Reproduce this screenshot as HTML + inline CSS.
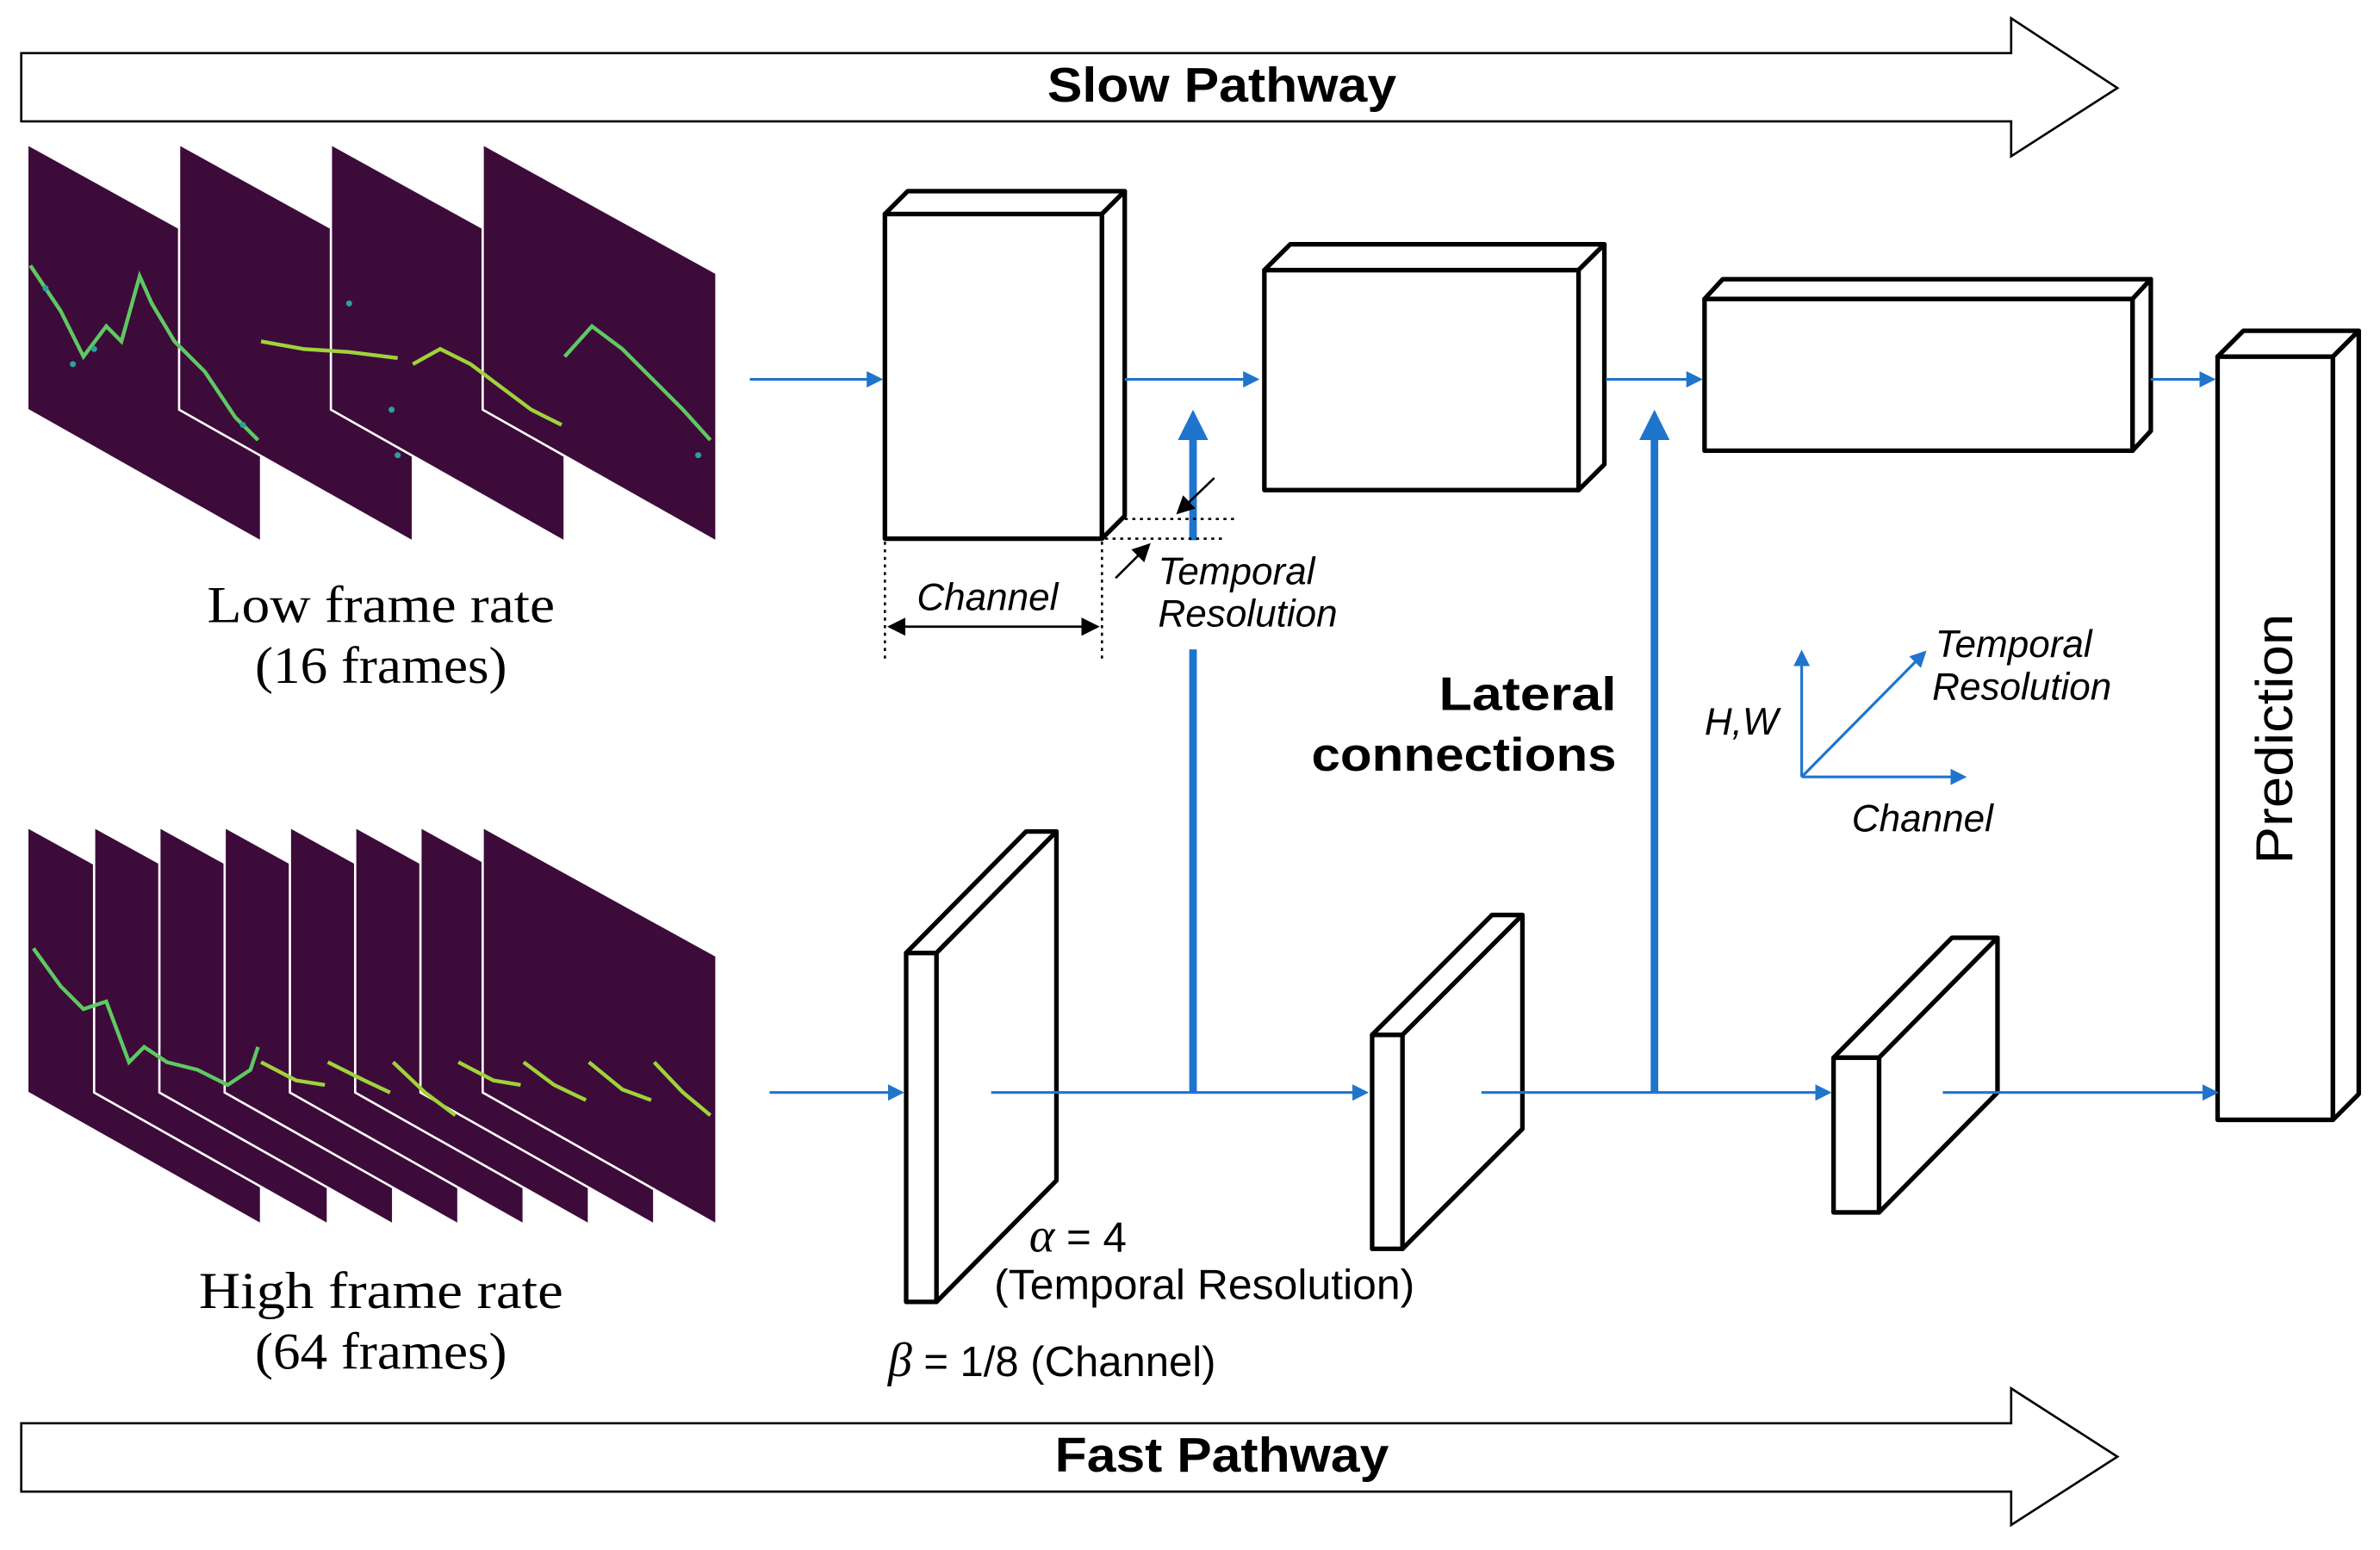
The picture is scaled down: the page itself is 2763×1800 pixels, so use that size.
<!DOCTYPE html>
<html><head><meta charset="utf-8"><style>html,body{margin:0;padding:0;background:#fff}svg{display:block}</style></head><body>
<svg width="2763" height="1800" viewBox="0 0 1568 1021.5" preserveAspectRatio="none" xmlns="http://www.w3.org/2000/svg">
<defs>
<marker id="ah" markerWidth="6" markerHeight="6" refX="5" refY="3" orient="auto" markerUnits="strokeWidth"><path d="M0,0 L6,3 L0,6 z" fill="#1f74cc"/></marker>
<marker id="ah2" markerWidth="4" markerHeight="4" refX="3" refY="2" orient="auto" markerUnits="strokeWidth"><path d="M0,0 L4,2 L0,4 z" fill="#1f74cc"/></marker>
<marker id="bk" markerWidth="8" markerHeight="8" refX="7" refY="4" orient="auto" markerUnits="strokeWidth"><path d="M0,0 L8,4 L0,8 z" fill="#000"/></marker>
<marker id="bks" markerWidth="8" markerHeight="8" refX="1" refY="4" orient="auto" markerUnits="strokeWidth"><path d="M8,0 L0,4 L8,8 z" fill="#000"/></marker>
</defs>
<g fill="#fff" stroke="#000" stroke-width="1.5">
<path d="M14,35 H1325 V12 L1395,58 L1325,103 V80 H14 Z"/>
<path d="M14,938 H1325 V915 L1395,960 L1325,1005 V983 H14 Z"/>
</g>
<g font-family="Liberation Sans, sans-serif" font-weight="bold" font-size="32" text-anchor="middle">
<text x="805" y="67" textLength="230" lengthAdjust="spacingAndGlyphs">Slow Pathway</text>
<text x="805" y="970" textLength="220" lengthAdjust="spacingAndGlyphs">Fast Pathway</text>
</g>
<g stroke="#fff" stroke-width="1.5" fill="#3d0b3a">
<path d="M18,95 L172,180 L172,357 L18,270 Z"/>
<path d="M118,95 L272,180 L272,357 L118,270 Z"/>
<path d="M218,95 L372,180 L372,357 L218,270 Z"/>
<path d="M318,95 L472,180 L472,357 L318,270 Z"/>
</g>
<g fill="none" stroke="#9fd33a" stroke-width="2.5">
<path d="M20,175 L40,205 L55,235 L70,215 L80,225 L92,182 L100,200 L115,225 L135,245 L155,275 L170,290" stroke="#5ec962"/>
<path d="M172,225 L200,230 L230,232 L262,236"/>
<path d="M272,240 L290,230 L310,240 L330,255 L350,270 L370,280"/>
<path d="M372,235 L390,215 L410,230 L430,250 L450,270 L468,290" stroke="#5ec962"/>
</g>
<g fill="#2aa0a0"><circle cx="30" cy="190" r="2"/><circle cx="48" cy="240" r="2"/><circle cx="62" cy="230" r="2"/><circle cx="230" cy="200" r="2"/><circle cx="258" cy="270" r="2"/><circle cx="262" cy="300" r="2"/><circle cx="460" cy="300" r="2"/><circle cx="160" cy="280" r="2"/></g>
<g stroke="#fff" stroke-width="1.5" fill="#3d0b3a">
<path d="M18,545 L172,630 L172,807 L18,720 Z"/>
<path d="M62,545 L216,630 L216,807 L62,720 Z"/>
<path d="M105,545 L259,630 L259,807 L105,720 Z"/>
<path d="M148,545 L302,630 L302,807 L148,720 Z"/>
<path d="M191,545 L345,630 L345,807 L191,720 Z"/>
<path d="M234,545 L388,630 L388,807 L234,720 Z"/>
<path d="M277,545 L431,630 L431,807 L277,720 Z"/>
<path d="M318,545 L472,630 L472,807 L318,720 Z"/>
</g>
<g fill="none" stroke="#9fd33a" stroke-width="2.5">
<path d="M22,625 L40,650 L55,665 L70,660 L85,700 L95,690 L110,700 L130,705 L150,715 L165,705 L170,690" stroke="#5ec962"/>
<path d="M172,700 L195,712 L214,715"/>
<path d="M216,700 L240,712 L257,720"/>
<path d="M259,700 L280,720 L300,735"/>
<path d="M302,700 L325,712 L343,715"/>
<path d="M345,700 L365,715 L386,725"/>
<path d="M388,700 L410,718 L429,725"/>
<path d="M431,700 L450,720 L468,735"/>
</g>
<g fill="#fff" stroke="#000" stroke-width="3" stroke-linejoin="round">
<rect x="583" y="141" width="143" height="214"/>
<path d="M583,141 L598,126 L741,126 L726,141 Z"/>
<path d="M726,141 L741,126 L741,340 L726,355 Z"/>
<rect x="833" y="178" width="207" height="145"/>
<path d="M833,178 L850,161 L1057,161 L1040,178 Z"/>
<path d="M1040,178 L1057,161 L1057,306 L1040,323 Z"/>
<rect x="1123" y="197" width="282" height="100"/>
<path d="M1123,197 L1135,184 L1417,184 L1405,197 Z"/>
<path d="M1405,197 L1417,184 L1417,284 L1405,297 Z"/>
<rect x="1461" y="235" width="76" height="503"/>
<path d="M1461,235 L1478,218 L1554,218 L1537,235 Z"/>
<path d="M1537,235 L1554,218 L1554,721 L1537,738 Z"/>
<rect x="597" y="628" width="20" height="230"/>
<path d="M597,628 L676,548 L696,548 L617,628 Z"/>
<path d="M617,628 L696,548 L696,778 L617,858 Z"/>
<rect x="904" y="682" width="20" height="141"/>
<path d="M904,682 L983,603 L1003,603 L924,682 Z"/>
<path d="M924,682 L1003,603 L1003,744 L924,823 Z"/>
<rect x="1208" y="697" width="30" height="102"/>
<path d="M1208,697 L1286,618 L1316,618 L1238,697 Z"/>
<path d="M1238,697 L1316,618 L1316,720 L1238,799 Z"/>
</g>
<text x="1510" y="487" font-family="Liberation Sans, sans-serif" font-size="34" text-anchor="middle" transform="rotate(-90 1510 487)" textLength="165" lengthAdjust="spacingAndGlyphs">Prediction</text>
<g stroke="#1f74cc" stroke-width="1.8" fill="none" marker-end="url(#ah)">
<line x1="494" y1="250" x2="580" y2="250"/>
<line x1="741" y1="250" x2="828" y2="250"/>
<line x1="1058" y1="250" x2="1120" y2="250"/>
<line x1="1417" y1="250" x2="1458" y2="250"/>
<line x1="507" y1="720" x2="594" y2="720"/>
<line x1="653" y1="720" x2="900" y2="720"/>
<line x1="976" y1="720" x2="1205" y2="720"/>
<line x1="1280" y1="720" x2="1460" y2="720"/>
</g>
<g stroke="#1f74cc" stroke-width="5" fill="none">
<line x1="786" y1="720" x2="786" y2="428"/>
<line x1="786" y1="356" x2="786" y2="275" marker-end="url(#ah2)"/>
<line x1="1090" y1="720" x2="1090" y2="275" marker-end="url(#ah2)"/>
</g>
<g stroke="#000" stroke-width="1.5" stroke-dasharray="2,3" fill="none">
<line x1="741" y1="342" x2="816" y2="342"/>
<line x1="728" y1="355" x2="806" y2="355"/>
<line x1="583" y1="357" x2="583" y2="437"/>
<line x1="726" y1="357" x2="726" y2="437"/>
</g>
<g stroke="#000" stroke-width="1.5" fill="none">
<line x1="800" y1="315" x2="776" y2="338" marker-end="url(#bk)"/>
<line x1="735" y1="381" x2="757" y2="359" marker-end="url(#bk)"/>
<line x1="586" y1="413" x2="723" y2="413" marker-start="url(#bks)" marker-end="url(#bk)"/>
</g>
<g font-family="Liberation Sans, sans-serif" font-style="italic" font-size="25">
<text x="604" y="402">Channel</text>
<text x="763" y="385">Temporal</text>
<text x="763" y="413">Resolution</text>
<text x="1123" y="484">H,W</text>
<text x="1275" y="433">Temporal</text>
<text x="1273" y="461">Resolution</text>
<text x="1220" y="548">Channel</text>
</g>
<g stroke="#1f74cc" stroke-width="1.8" fill="none" marker-end="url(#ah)">
<line x1="1187" y1="512" x2="1187" y2="430"/>
<line x1="1187" y1="512" x2="1294" y2="512"/>
<line x1="1187" y1="512" x2="1268" y2="430"/>
</g>
<g font-family="Liberation Sans, sans-serif" font-weight="bold" font-size="31" text-anchor="end">
<text x="1065" y="468" textLength="117" lengthAdjust="spacingAndGlyphs">Lateral</text>
<text x="1065" y="508" textLength="201" lengthAdjust="spacingAndGlyphs">connections</text>
</g>
<g font-family="Liberation Serif, serif" font-size="34" text-anchor="middle">
<text x="251" y="410" textLength="229" lengthAdjust="spacingAndGlyphs">Low frame rate</text>
<text x="251" y="450" textLength="166" lengthAdjust="spacingAndGlyphs">(16 frames)</text>
<text x="251" y="862" textLength="240" lengthAdjust="spacingAndGlyphs">High frame rate</text>
<text x="251" y="902" textLength="166" lengthAdjust="spacingAndGlyphs">(64 frames)</text>
</g>
<g font-family="Liberation Sans, sans-serif" font-size="28">
<text x="678" y="825"><tspan font-family="Liberation Serif, serif" font-style="italic" font-size="32">α</tspan> = 4</text>
<text x="655" y="856" textLength="277" lengthAdjust="spacingAndGlyphs">(Temporal Resolution)</text>
<text x="585" y="907" textLength="216" lengthAdjust="spacingAndGlyphs"><tspan font-family="Liberation Serif, serif" font-style="italic" font-size="32">β</tspan> = 1/8 (Channel)</text>
</g>
</svg>
</body></html>
